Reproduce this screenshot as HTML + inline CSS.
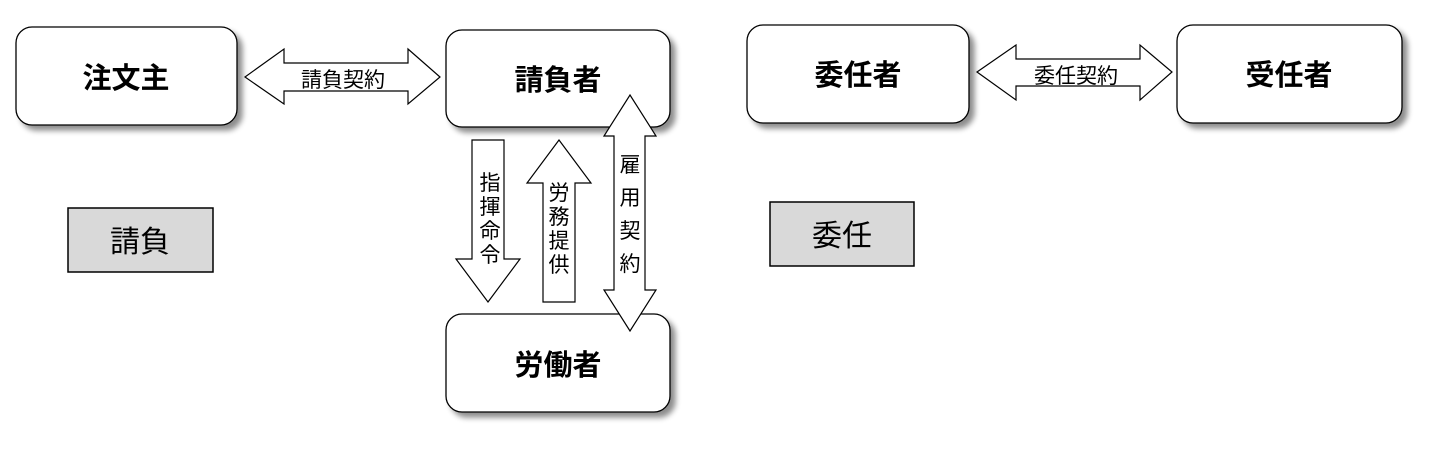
<!DOCTYPE html>
<html><head><meta charset="utf-8"><style>
body{margin:0;background:#fff;}
svg text{font-family:"Liberation Sans","Noto Sans CJK JP",sans-serif;}
</style></head><body>
<svg width="1430" height="452" viewBox="0 0 1430 452" xmlns="http://www.w3.org/2000/svg">
<defs>
<filter id="sh" x="-10%" y="-10%" width="130%" height="140%">
<feGaussianBlur in="SourceAlpha" stdDeviation="3"/>
<feOffset dx="5" dy="5"/>
<feComponentTransfer><feFuncA type="linear" slope="0.45"/></feComponentTransfer>
<feMerge><feMergeNode/><feMergeNode in="SourceGraphic"/></feMerge>
</filter>
</defs>
<g fill="#fff" stroke="#000" stroke-width="1.3" filter="url(#sh)">
<rect x="16" y="27" width="221" height="98" rx="16"/>
<rect x="446" y="30" width="224" height="97" rx="16"/>
<rect x="446" y="314" width="224" height="98" rx="16"/>
<rect x="747" y="25" width="222" height="98" rx="16"/>
<rect x="1177" y="25" width="225" height="98" rx="16"/>
</g>
<g font-size="29" font-weight="bold" text-anchor="middle" fill="#000">
<text x="126" y="88">注文主</text>
<text x="558" y="90">請負者</text>
<text x="558" y="375">労働者</text>
<text x="858" y="85">委任者</text>
<text x="1289" y="85">受任者</text>
</g>
<rect x="68" y="208" width="145" height="64" fill="#d9d9d9" stroke="#000" stroke-width="1.5"/>
<rect x="770" y="202" width="144" height="64" fill="#d9d9d9" stroke="#000" stroke-width="1.5"/>
<g font-size="30" text-anchor="middle" fill="#000">
<text x="140" y="252">請負</text>
<text x="842" y="246">委任</text>
</g>
<g fill="#fff" stroke="#000" stroke-width="1.2">
<polygon points="245,77 284,49 284,63 408,63 408,49 440,77 408,104 408,91 284,91 284,104"/>
<polygon points="977,72 1016,45 1016,59 1140,59 1140,45 1172,72 1140,100 1140,86 1016,86 1016,100"/>
<polygon points="472,140 504,140 504,259 520,259 488,302 456,259 472,259"/>
<polygon points="559,140 591,183 575,183 575,302 543,302 543,183 527,183"/>
<polygon points="630,95 656,136 645,136 645,290 656,290 630,331 604,290 614,290 614,136 604,136"/>
</g>
<g font-size="21" fill="#000" text-anchor="middle">
<text x="343" y="87">請負契約</text>
<text x="1076" y="83">委任契約</text>
<text x="490" y="190">指</text><text x="490" y="214">揮</text><text x="490" y="238">命</text><text x="490" y="262">令</text>
<text x="559" y="200">労</text><text x="559" y="224">務</text><text x="559" y="248">提</text><text x="559" y="272">供</text>
<text x="630" y="172">雇</text><text x="630" y="205">用</text><text x="630" y="238">契</text><text x="630" y="271">約</text>
</g>
</svg>
</body></html>
